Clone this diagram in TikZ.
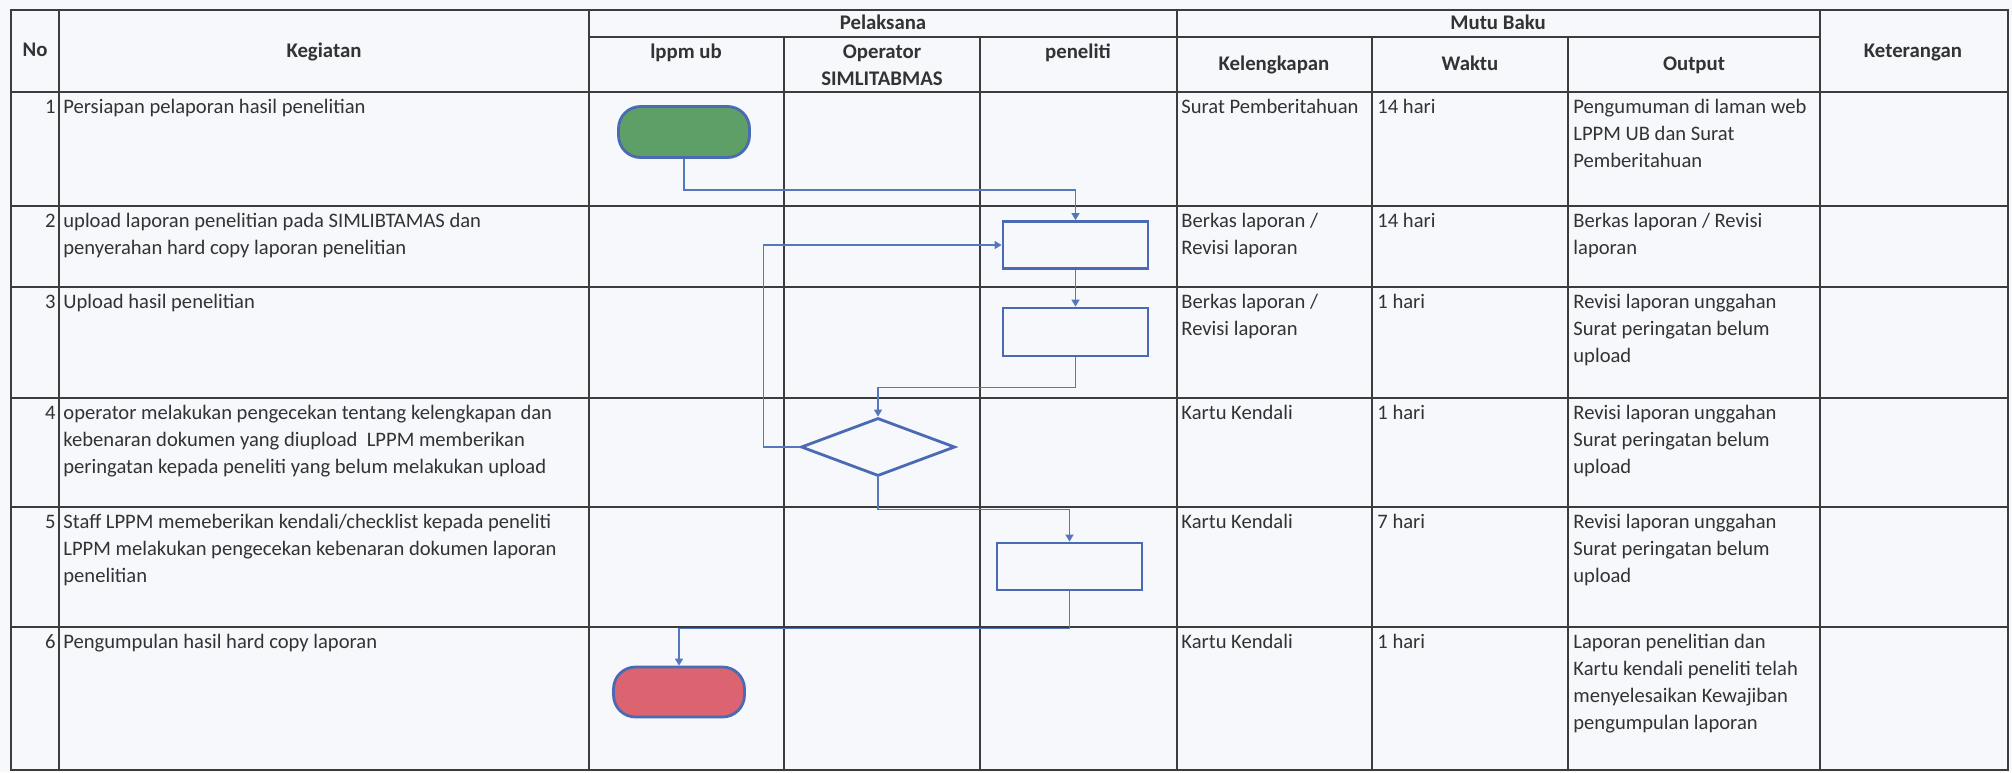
\documentclass[tikz,border=0pt]{standalone}
\usepackage{fontspec}
\setmainfont{Carlito}
\usetikzlibrary{shapes.geometric,arrows.meta}
\definecolor{bg}{HTML}{F6F8FC}
\definecolor{gridc}{HTML}{3C3C3C}
\definecolor{txt}{HTML}{333333}
\definecolor{flow}{HTML}{4A6BB3}
\definecolor{connc}{HTML}{5577BB}
\definecolor{startg}{HTML}{5E9F68}
\definecolor{endr}{HTML}{DB6470}
\newcommand\bodyfnt{\fontsize{10.3}{13.5}\selectfont}
\newcommand\hdrfnt{\fontsize{10.4}{13.5}\selectfont\bfseries}
\tikzset{
  gridline/.style={draw=gridc, line width=1.1pt},
  cell/.style={anchor=north west, inner sep=0pt, align=left, text=txt, font=\bodyfnt},
  numcell/.style={anchor=north east, inner sep=0pt, text=txt, font=\bodyfnt},
  hdr/.style={inner sep=0pt, align=center, text=txt, font=\hdrfnt},
  termnode/.style={draw=flow, line width=1.4pt, rounded corners=11pt, minimum width=65.5pt, minimum height=25.5pt, inner sep=0pt},
  procbox/.style={draw=flow, line width=1.4pt, minimum width=72.5pt, minimum height=23.5pt, inner sep=0pt},
  decnode/.style={diamond, draw=flow, line width=1.4pt, minimum width=77pt, minimum height=29pt, inner sep=0pt},
  connline/.style={draw=connc, line width=0.7pt, -{Triangle[length=3.5pt,width=4pt]}}
}
\begin{document}
\begin{tikzpicture}[x=0.5pt,y=-0.5pt]
\useasboundingbox (0,0) rectangle (2012,772);
\fill[bg] (0,0) rectangle (2012,772);

% table grid
\draw[gridline] (11,10) rectangle (2008,770);
\foreach \xx in {59,589,1177,1820} \draw[gridline] (\xx,10) -- (\xx,770);
\foreach \xx in {784,980,1372,1568} \draw[gridline] (\xx,37) -- (\xx,770);
\draw[gridline] (589,37) -- (1820,37);
\foreach \yy in {92,206,287,398,507,627} \draw[gridline] (11,\yy) -- (2008,\yy);

% headers
\node[hdr] (hNo) at (35,51) {\strut No};
\node[hdr] (hKeg) at (324,52) {\strut Kegiatan};
\node[hdr] (hPel) at (883,24) {\strut Pelaksana};
\node[hdr] (hLppm) at (686,53) {\strut lppm ub};
\node[hdr] (hOp) at (882,66.5) {\strut Operator\\\strut SIMLITABMAS};
\node[hdr] (hPen) at (1078,53) {\strut peneliti};
\node[hdr] (hMutu) at (1498,24) {\strut Mutu Baku};
\node[hdr] (hKel) at (1274,65) {\strut Kelengkapan};
\node[hdr] (hWak) at (1470,65) {\strut Waktu};
\node[hdr] (hOut) at (1694,65) {\strut Output};
\node[hdr] (hKet) at (1913,52) {\strut Keterangan};

% row 1
\node[numcell] (n1) at (56,94) {\strut 1};
\node[cell] (k1) at (63,94) {\strut Persiapan pelaporan hasil penelitian};
\node[cell] (l1) at (1181,94) {\strut Surat Pemberitahuan};
\node[cell] (w1) at (1377,94) {\strut 14 hari};
\node[cell] (o1) at (1573,94) {\strut Pengumuman di laman web\\\strut LPPM UB dan Surat\\\strut Pemberitahuan};
% row 2
\node[numcell] (n2) at (56,208) {\strut 2};
\node[cell] (k2) at (63,208) {\strut upload laporan penelitian pada SIMLIBTAMAS dan\\\strut penyerahan hard copy laporan penelitian};
\node[cell] (l2) at (1181,208) {\strut Berkas laporan /\\\strut Revisi laporan};
\node[cell] (w2) at (1377,208) {\strut 14 hari};
\node[cell] (o2) at (1573,208) {\strut Berkas laporan / Revisi\\\strut laporan};
% row 3
\node[numcell] (n3) at (56,289) {\strut 3};
\node[cell] (k3) at (63,289) {\strut Upload hasil penelitian};
\node[cell] (l3) at (1181,289) {\strut Berkas laporan /\\\strut Revisi laporan};
\node[cell] (w3) at (1377,289) {\strut 1 hari};
\node[cell] (o3) at (1573,289) {\strut Revisi laporan unggahan\\\strut Surat peringatan belum\\\strut upload};
% row 4
\node[numcell] (n4) at (56,400) {\strut 4};
\node[cell] (k4) at (63,400) {\strut operator melakukan pengecekan tentang kelengkapan dan\\\strut kebenaran dokumen yang diupload~ LPPM memberikan\\\strut peringatan kepada peneliti yang belum melakukan upload};
\node[cell] (l4) at (1181,400) {\strut Kartu Kendali};
\node[cell] (w4) at (1377,400) {\strut 1 hari};
\node[cell] (o4) at (1573,400) {\strut Revisi laporan unggahan\\\strut Surat peringatan belum\\\strut upload};
% row 5
\node[numcell] (n5) at (56,509) {\strut 5};
\node[cell] (k5) at (63,509) {\strut Staff LPPM memeberikan kendali/checklist kepada peneliti\\\strut LPPM melakukan pengecekan kebenaran dokumen laporan\\\strut penelitian};
\node[cell] (l5) at (1181,509) {\strut Kartu Kendali};
\node[cell] (w5) at (1377,509) {\strut 7 hari};
\node[cell] (o5) at (1573,509) {\strut Revisi laporan unggahan\\\strut Surat peringatan belum\\\strut upload};
% row 6
\node[numcell] (n6) at (56,629) {\strut 6};
\node[cell] (k6) at (63,629) {\strut Pengumpulan hasil hard copy laporan};
\node[cell] (l6) at (1181,629) {\strut Kartu Kendali};
\node[cell] (w6) at (1377,629) {\strut 1 hari};
\node[cell] (o6) at (1573,629) {\strut Laporan penelitian dan\\\strut Kartu kendali peneliti telah\\\strut menyelesaikan Kewajiban\\\strut pengumpulan laporan};

% flowchart shapes
\node[termnode, fill=startg] (start) at (684,132) {};
\node[procbox] (b1) at (1075.5,245) {};
\node[procbox, minimum height=24pt] (b2) at (1075.5,332) {};
\node[decnode] (dec) at (878,447) {};
\node[procbox] (b3) at (1069.5,566.5) {};
\node[termnode, fill=endr, minimum height=25pt] (end) at (679,692) {};

% connectors
\draw[connline] (start.south) -- ++(0,31) -| (b1.north);
\draw[connline] (b1.south) -- (b2.north);
\draw[connline] (b2.south) -- ++(0,30) -| (dec.north);
\draw[connline] (dec.west) -- ++(-36,0) |- (b1.west);
\draw[connline] (dec.south) -- ++(0,32) -| (b3.north);
\draw[connline] (b3.south) -- ++(0,37) -| (end.north);
\end{tikzpicture}
\end{document}
